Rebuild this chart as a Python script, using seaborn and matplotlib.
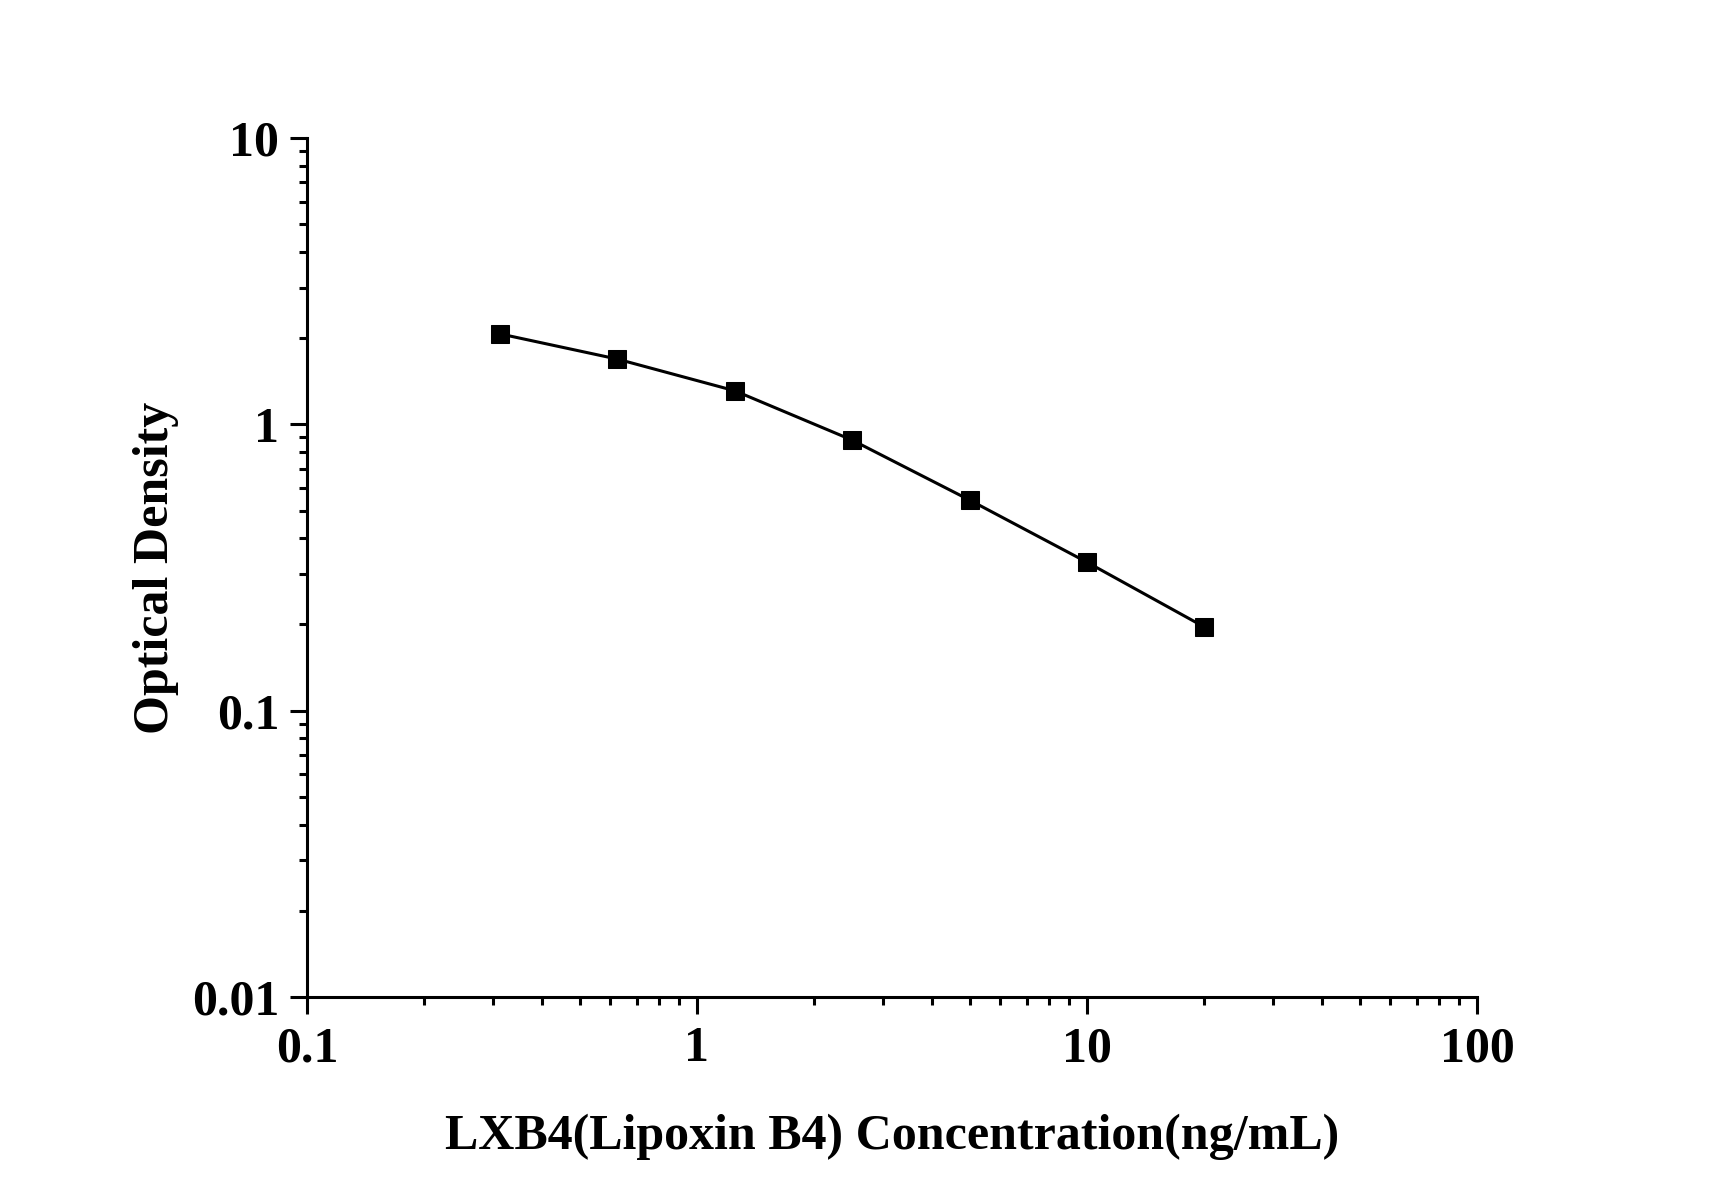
import matplotlib
matplotlib.use("Agg")
import matplotlib.pyplot as plt
import matplotlib.ticker as mticker
import seaborn as sns
import pandas as pd

# concentracoes do padrao (ng/mL) e densidade optica
concentracao = [0.3125, 0.625, 1.25, 2.5, 5, 10, 20]
densidade = [2.07, 1.69, 1.31, 0.881, 0.544, 0.330, 0.196]

df = pd.DataFrame({"conc": concentracao, "od": densidade})

sns.set_theme(style="ticks")
plt.rcParams['font.family'] = ['Liberation Serif', 'DejaVu Serif']
plt.rcParams['font.weight'] = 'bold'
plt.rcParams['text.color'] = 'black'
plt.rcParams['axes.labelcolor'] = 'black'
plt.rcParams['xtick.color'] = 'black'
plt.rcParams['ytick.color'] = 'black'

fig = plt.figure(figsize=(17.12, 11.96), dpi=100)
ax = fig.add_axes([0.1793, 0.1664, 0.6834, 0.7182])

sns.lineplot(
    data=df, x="conc", y="od", ax=ax,
    color="black", linewidth=2.2,
    marker="s", markersize=13, markeredgecolor="black", markerfacecolor="black"
)

ax.set_xscale("log")
ax.set_yscale("log")
ax.set_xlim(0.1, 100)
ax.set_ylim(0.01, 10)

fmt = mticker.FuncFormatter(lambda v, p: f"{v:g}")
ax.xaxis.set_major_formatter(fmt)
ax.yaxis.set_major_formatter(fmt)
ax.xaxis.set_minor_formatter(mticker.NullFormatter())
ax.yaxis.set_minor_formatter(mticker.NullFormatter())

ax.set_xlabel("LXB4(Lipoxin B4) Concentration(ng/mL)", fontsize=36, fontweight="bold",
              labelpad=30, color="black")
ax.set_ylabel("Optical Density", fontsize=36, fontweight="bold", labelpad=9, color="black")

ax.tick_params(axis="both", which="major", direction="out", length=12, width=2.2,
               labelsize=36, color="black", labelcolor="black")
ax.tick_params(axis="x", which="major", pad=9)
ax.tick_params(axis="y", which="major", pad=8)
ax.tick_params(axis="both", which="minor", direction="out", length=6, width=2.2, color="black")
for lab in ax.get_xticklabels() + ax.get_yticklabels():
    lab.set_fontweight("bold")

for s in ["left", "bottom"]:
    ax.spines[s].set_linewidth(2.2)
    ax.spines[s].set_color("black")
sns.despine(ax=ax)

fig.savefig("out.png", dpi=100, facecolor="white")
